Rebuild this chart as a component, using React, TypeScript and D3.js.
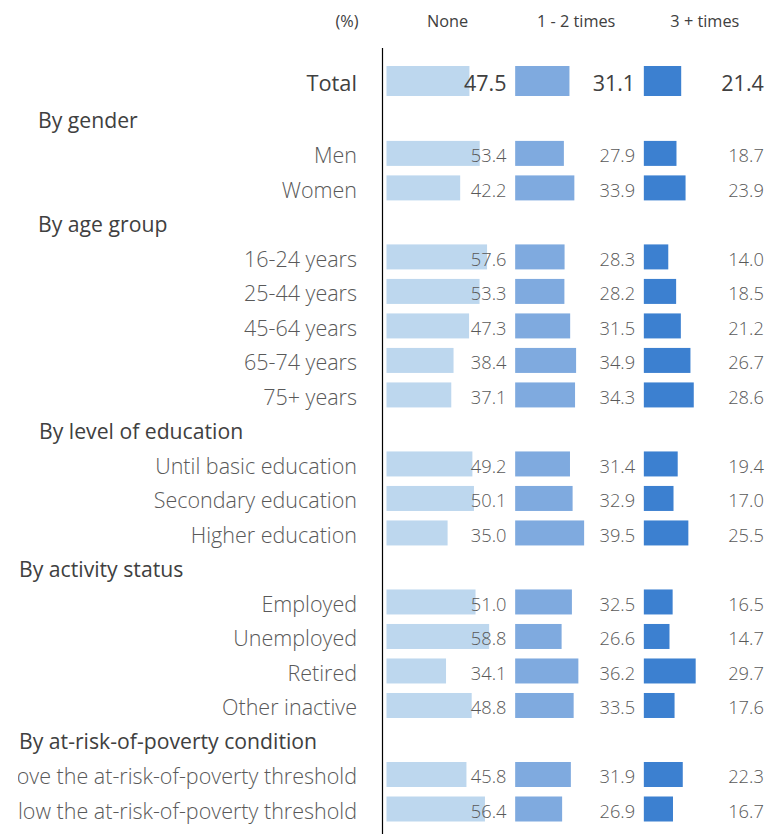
import React from "react";
import * as d3 from "d3";

const series = ["None", "1 - 2 times", "3 + times"];
const colors = ["#BDD7EE", "#7FAADF", "#3C80D0"];

const totalValues = [47.5, 31.1, 21.4];

type Row = { label: string; header?: boolean; indent?: number; values?: number[] };

const genderLabels = ["Men", "Women"];
const genderValues = [[53.4, 27.9, 18.7], [42.2, 33.9, 23.9]];
const ageLabels = ["16-24 years", "25-44 years", "45-64 years", "65-74 years", "75+ years"];
const ageValues = [[57.6, 28.3, 14.0], [53.3, 28.2, 18.5], [47.3, 31.5, 21.2], [38.4, 34.9, 26.7], [37.1, 34.3, 28.6]];
const eduLabels = ["Until basic education", "Secondary education", "Higher education"];
const eduValues = [[49.2, 31.4, 19.4], [50.1, 32.9, 17.0], [35.0, 39.5, 25.5]];
const actLabels = ["Employed", "Unemployed", "Retired", "Other inactive"];
const actValues = [[51.0, 32.5, 16.5], [58.8, 26.6, 14.7], [34.1, 36.2, 29.7], [48.8, 33.5, 17.6]];
const povLabels = ["Above the at-risk-of-poverty threshold", "Below the at-risk-of-poverty threshold"];
const povValues = [[45.8, 31.9, 22.3], [56.4, 26.9, 16.7]];

const groups = [
  { header: "By gender", indent: 38, labels: genderLabels, values: genderValues },
  { header: "By age group", indent: 38, labels: ageLabels, values: ageValues },
  { header: "By level of education", indent: 39, labels: eduLabels, values: eduValues },
  { header: "By activity status", indent: 19, labels: actLabels, values: actValues },
  { header: "By at-risk-of-poverty condition", indent: 19, labels: povLabels, values: povValues },
];

const rows: Row[] = [];
groups.forEach((g) => {
  rows.push({ label: g.header, header: true, indent: g.indent });
  g.labels.forEach((l, i) => rows.push({ label: l, values: g.values[i] }));
});

const W = 767;
const H = 834;
const FONT = "'Open Sans', Lato, sans-serif";

export default function App() {
  const panel = d3.scaleBand<string>().domain(series).range([386.5, 772.5]);
  const x = d3.scaleLinear().domain([0, 73.7]).range([0, panel.step()]);
  const y = d3.scaleLinear().domain([0, 19]).range([153.4, 809]);
  const barH = 25;
  const labelRight = 357;
  const valueOffset = 120;

  return (
    <svg width={W} height={H} style={{ position: "absolute", left: 0, top: 0, background: "#fff" }}>
      <defs>
        <clipPath id="labelClip">
          <rect x={18} y={0} width={W - 18} height={H} />
        </clipPath>
      </defs>
      <text x={358.5} y={26.7} textAnchor="end" fontFamily={FONT} fontSize={16.3} fill="#404040">(%)</text>
      {series.map((s) => (
        <text key={s} x={(panel(s) as number) + 61} y={26.7} textAnchor="middle" fontFamily={FONT} fontSize={16.3} fill="#404040">{s}</text>
      ))}

      <text x={labelRight} y={90.7} textAnchor="end" fontFamily={FONT} fontSize={21.8} fill="#404040">Total</text>
      {series.map((s, j) => (
        <g key={s}>
          <rect x={panel(s) as number} y={66} width={x(totalValues[j])} height={30} fill={colors[j]} />
          <text x={(panel(s) as number) + valueOffset} y={90.7} textAnchor="end" fontFamily={FONT} fontSize={21.5} fill="#404040">{totalValues[j].toFixed(1)}</text>
        </g>
      ))}

      {rows.map((r, i) => {
        const cy = y(i - 1);
        if (r.header) {
          return (
            <text key={r.label} x={r.indent} y={cy + 9.2} fontFamily={FONT} fontSize={21.2} fill="#404040">{r.label}</text>
          );
        }
        return (
          <g key={r.label}>
            <g clipPath="url(#labelClip)">
              <text x={labelRight} y={cy + 9.8} textAnchor="end" fontFamily={FONT} fontWeight={300} fontSize={21.5} fill="#595959">{r.label}</text>
            </g>
            {series.map((s, j) => (
              <g key={s}>
                <rect x={panel(s) as number} y={cy - barH / 2} width={x(r.values![j])} height={barH} fill={colors[j]} />
                <text x={(panel(s) as number) + valueOffset} y={cy + 9} textAnchor="end" fontFamily={FONT} fontWeight={300} fontSize={18.3} fill="#595959">{r.values![j].toFixed(1)}</text>
              </g>
            ))}
          </g>
        );
      })}

      <line x1={382.5} x2={382.5} y1={48} y2={H} stroke="#000" strokeWidth={1.2} />
    </svg>
  );
}
